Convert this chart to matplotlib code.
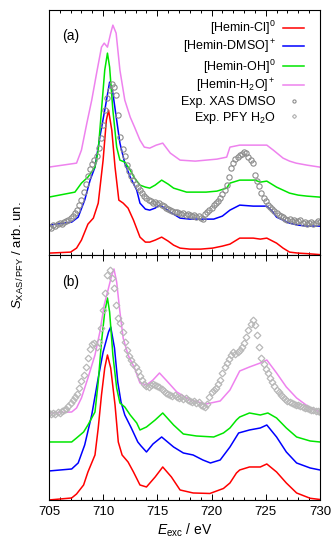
import numpy as np
import matplotlib
matplotlib.use("Agg")
import matplotlib.pyplot as plt
from matplotlib.ticker import MultipleLocator

plt.rcParams["font.family"] = ["Liberation Sans", "DejaVu Sans"]
plt.rcParams["mathtext.fontset"] = "custom"
plt.rcParams["mathtext.rm"] = "Liberation Sans"
plt.rcParams["mathtext.it"] = "Liberation Sans:italic"

# ---- panel (a): calculated spectra (energy in eV, intensity in arb. units) ----
cl_a_e = [705, 707, 707.55, 708.0, 708.6, 709.1, 709.55, 710.0, 710.3, 710.5, 710.8, 711.1,
          711.45, 711.85, 712.3, 712.8, 713.4, 713.9, 714.3, 714.8, 715.4, 716.0, 716.5,
          717.1, 718.0, 719.0, 720.1, 721.0, 721.7, 722.6, 723.85, 724.5, 725.1, 726.0,
          726.6, 727.2, 728.0, 728.8, 730]
cl_a_i = [2, 3, 7, 15, 31, 37, 52, 95, 135, 145, 125, 88, 55, 52, 47, 35, 18, 13, 13, 15, 18,
          14, 10, 7, 6, 6, 7, 9, 11, 17, 17, 16, 17, 12, 7, 3, 2, 1.5, 0.5]

dmso_a_e = [705, 707.1, 707.7, 708.3, 708.8, 709.25, 709.7, 710.2, 710.6, 710.9, 711.25,
            711.55, 712.0, 712.5, 713.1, 713.4, 713.9, 714.3, 714.8, 715.2, 715.7, 716.2,
            717.1, 718.0, 719.0, 720.2, 721.0, 721.7, 722.6, 723.85, 724.5, 725.1, 725.6,
            726.0, 726.6, 727.2, 728.0, 728.8, 730]
dmso_a_i = [30, 33, 38, 55, 75, 88, 118, 148, 173, 162, 135, 112, 92, 78, 65, 52, 46, 45, 47,
            50, 47, 43, 37, 36, 36, 36, 39, 45, 50, 49, 49, 49, 44, 38, 35, 32, 30, 29, 29]

oh_a_e = [705, 707.4, 708.0, 708.6, 709.25, 709.55, 709.85, 710.15, 710.4, 710.6, 710.9,
          711.25, 711.55, 712.0, 712.5, 712.9, 713.4, 713.9, 714.3, 714.8, 715.4, 716.0,
          716.5, 717.7, 719.5, 720.5, 721.4, 721.7, 722.6, 723.3, 724.0, 724.5, 725.1,
          726.0, 726.6, 727.2, 728.0, 728.8, 730]
oh_a_i = [58, 63, 72, 78, 88, 105, 145, 185, 202, 188, 145, 108, 95, 93, 85, 77, 70, 68, 67,
          70, 75, 71, 67, 63, 63, 64, 67, 72, 75, 75, 75, 73, 74, 68, 65, 62, 60, 59, 58]

h2o_a_e = [705, 707.55, 708.0, 708.5, 708.95, 709.4, 709.85, 710.1, 710.4, 710.7, 710.9,
           711.2, 711.55, 712.0, 712.5, 712.9, 713.4, 713.8, 714.3, 714.9, 715.5, 716.2,
           717.1, 718.5, 719.5, 720.5, 721.4, 721.7, 722.6, 723.8, 725.1, 725.7, 726.6,
           727.2, 727.8, 728.8, 730]
h2o_a_i = [88, 92, 105, 132, 155, 182, 208, 212, 208, 222, 230, 222, 185, 155, 138, 128, 115,
           108, 107, 110, 112, 102, 95, 94, 95, 96, 98, 108, 110, 110, 110, 105, 97, 94, 92,
           90, 88]

# experimental XAS in DMSO, sampled every 0.2 eV from 705 eV
xas_dmso = [28, 27, 30, 29, 31, 32, 31, 33, 34, 35, 37, 39, 42, 45, 50, 55, 63, 71, 79, 86,
            91, 95, 99, 107, 117, 130, 145, 157, 165, 171, 168, 160, 140, 118, 106, 99, 90,
            84, 79, 75, 71, 68, 65, 62, 59, 57, 55, 54, 52, 53, 51, 52, 50, 49, 47, 46, 45,
            44, 43, 43, 42, 41, 42, 40, 41, 40, 39, 40, 38, 39, 37, 36, 41, 43, 45, 47, 50,
            52, 54, 57, 61, 65, 70, 78, 87, 92, 96, 98, 100, 101, 103, 102, 98, 95, 92, 80,
            74, 69, 62, 57, 54, 50, 48, 46, 44, 42, 40, 39, 38, 36, 35, 36, 34, 35, 33, 34,
            35, 32, 33, 31, 32, 33, 31, 32, 34, 33]

# ---- panel (b) ----
cl_b_e = [705, 707.1, 707.55, 708.2, 708.6, 709.25, 709.55, 709.85, 710.15, 710.4, 710.7,
          711.1, 711.4, 711.75, 712.3, 712.8, 713.4, 714.0, 714.8, 715.5, 716.3, 717.1,
          718.3, 719.85, 721.1, 721.7, 722.3, 722.6, 723.5, 724.5, 725.1, 726.0, 726.9,
          727.85, 729.1, 730]
cl_b_i = [0, 2, 6, 15, 28, 45, 72, 105, 132, 145, 132, 95, 58, 45, 38, 28, 15, 13, 23, 33,
          23, 10, 7, 6.5, 11.5, 17, 27, 30, 33, 33, 36, 28, 17, 7, 1.7, 0.5]

dmso_b_e = [705, 707.1, 707.7, 708.3, 708.95, 709.55, 710.0, 710.5, 710.7, 711.05, 711.35,
            711.65, 712.0, 712.6, 713.2, 713.5, 714.0, 714.6, 715.4, 716.5, 717.4, 718.3,
            719.2, 719.9, 720.8, 721.7, 722.5, 723.5, 724.5, 725.1, 726.0, 726.9, 727.85,
            729.1, 730]
dmso_b_i = [29, 31, 37, 55, 85, 122, 148, 168, 173, 152, 118, 98, 85, 72, 58, 54, 48, 56, 63,
            53, 47, 45, 40, 37, 40, 53, 67, 70, 72, 75, 63, 48, 37, 32, 30]

oh_b_e = [705, 707.1, 707.55, 708.2, 708.6, 709.25, 709.55, 709.85, 710.15, 710.4, 710.6,
          710.9, 711.25, 711.55, 712.0, 712.5, 713.1, 713.4, 714.0, 714.8, 715.5, 716.5,
          717.4, 718.6, 720.2, 721.1, 721.7, 722.3, 722.6, 723.5, 724.5, 725.2, 726.0,
          726.9, 727.85, 729.1, 730]
oh_b_i = [58, 58, 62, 68, 75, 88, 118, 158, 188, 202, 188, 145, 112, 97, 93, 85, 77, 70, 73,
          80, 87, 75, 66, 64, 63, 67, 72, 80, 83, 87, 85, 87, 82, 72, 63, 59, 58]

h2o_b_e = [705, 707.1, 707.55, 708.0, 708.6, 709.25, 709.7, 710.1, 710.5, 710.8, 711.0,
           711.25, 711.55, 711.85, 712.3, 712.9, 713.4, 714.0, 714.6, 715.2, 715.8, 716.8,
           718.0, 719.5, 720.8, 721.7, 722.6, 723.5, 724.5, 725.1, 726.0, 726.9, 727.85,
           729.1, 730]
h2o_b_i = [87, 88, 92, 102, 122, 145, 168, 195, 212, 225, 231, 218, 188, 162, 145, 132, 117,
           115, 120, 127, 120, 108, 100, 96, 99, 110, 129, 133, 137, 140, 127, 113, 102, 92, 88]

# experimental PFY in H2O, sampled every 0.2 eV from 705 eV
pfy_h2o = [87, 86, 87, 86, 88, 87, 89, 90, 91, 94, 97, 100, 103, 106, 112, 119, 125, 133, 142,
           151, 156, 157, 153, 158, 172, 190, 207, 225, 230, 222, 212, 195, 182, 177, 168,
           158, 150, 144, 140, 136, 133, 129, 124, 120, 116, 114, 113, 115, 116, 115, 114,
           113, 111, 109, 107, 106, 105, 104, 105, 103, 102, 103, 101, 102, 100, 99, 98, 99,
           97, 98, 95, 94, 93, 96, 103, 108, 110, 112, 116, 120, 127, 133, 137, 141, 145,
           148, 146, 148, 150, 153, 157, 163, 170, 176, 180, 175, 165, 153, 142, 136, 131,
           127, 122, 118, 114, 110, 108, 105, 103, 101, 99, 98, 97, 96, 95, 95, 94, 93, 92,
           92, 91, 90, 90, 89, 89, 88]

LABELS = ["[Hemin-Cl]$^0$", "[Hemin-DMSO]$^+$", "[Hemin-OH]$^0$", "[Hemin-H$_2$O]$^+$",
          "Exp. XAS DMSO", "Exp. PFY H$_2$O"]
COLORS = ["#ff0000", "#0000ff", "#00e600", "#ee82ee"]


def style_axis(ax, show_labels):
    ax.set_xlim(705, 730)
    ax.set_ylim(0, 245)
    ax.xaxis.set_major_locator(MultipleLocator(5))
    ax.xaxis.set_minor_locator(MultipleLocator(1))
    ax.tick_params(which="both", direction="in", top=True, bottom=True,
                   left=False, right=False, labelleft=False, labelsize=9.5,
                   labelbottom=show_labels, width=0.7, pad=4)
    ax.tick_params(which="major", length=4)
    ax.tick_params(which="minor", length=2)
    for spine in ax.spines.values():
        spine.set_linewidth(0.8)


fig = plt.figure(figsize=(3.35, 5.51), dpi=100)
ax_a = fig.add_axes([0.146, 0.537, 0.809, 0.4446])
ax_b = fig.add_axes([0.146, 0.0926, 0.809, 0.4446])

curves_a = [(cl_a_e, cl_a_i), (dmso_a_e, dmso_a_i), (oh_a_e, oh_a_i), (h2o_a_e, h2o_a_i)]
curves_b = [(cl_b_e, cl_b_i), (dmso_b_e, dmso_b_i), (oh_b_e, oh_b_i), (h2o_b_e, h2o_b_i)]

handles = []
for (e, i), color, label in zip(curves_a, COLORS, LABELS):
    line, = ax_a.plot(e, i, color=color, lw=1.1, label=label)
    handles.append(line)
for (e, i), color in zip(curves_b, COLORS):
    ax_b.plot(e, i, color=color, lw=1.1)

e_dmso = 705 + 0.2 * np.arange(len(xas_dmso))
e_pfy = 705 + 0.2 * np.arange(len(pfy_h2o))
pts, = ax_a.plot(e_dmso, xas_dmso, ls="none", marker="o", ms=3.8, mfc="none",
                 mec="#8c8c8c", mew=0.8, label=LABELS[4])
dia, = ax_b.plot(e_pfy, pfy_h2o, ls="none", marker="D", ms=3.4, mfc="none",
                 mec="#b8b8b8", mew=0.9, label=LABELS[5])
handles += [pts, dia]

style_axis(ax_a, False)
style_axis(ax_b, True)

ax_a.text(0.05, 0.895, "(a)", transform=ax_a.transAxes, fontsize=10, va="center")
ax_b.text(0.05, 0.89, "(b)", transform=ax_b.transAxes, fontsize=10, va="center")

ax_a.legend(handles=handles, loc="upper right", bbox_to_anchor=(0.97, 0.995),
            frameon=False, markerfirst=False, fontsize=9, handlelength=1.7,
            handletextpad=0.6, labelspacing=0.1, numpoints=1, markerscale=0.6,
            borderaxespad=0.2)

ax_b.set_xlabel("$E_{\\rm exc}$ / eV", fontsize=10, labelpad=3)
fig.text(0.055, 0.537, "$S_{\\rm XAS\\,/\\,PFY}$ / arb. un.", rotation=90,
         ha="center", va="center", fontsize=9.5)

fig.savefig("out.png", dpi=100)
